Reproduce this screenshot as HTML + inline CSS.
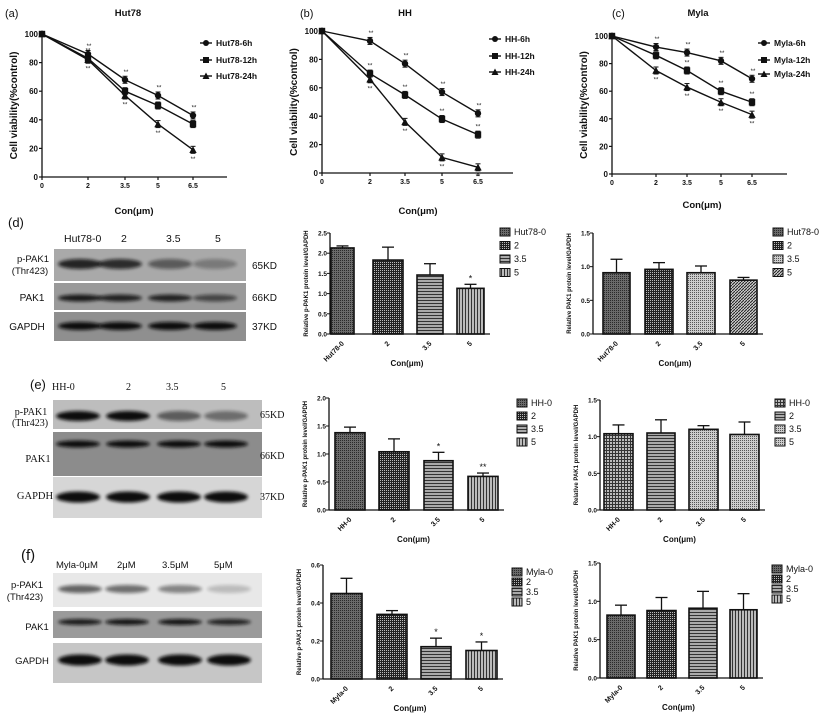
<!DOCTYPE html>
<html><head><meta charset="utf-8"><style>
html,body{margin:0;padding:0;background:#fff;}
svg{display:block;font-family:"Liberation Sans",Arial,sans-serif;}
</style></head><body>
<svg id="s" width="829" height="722" viewBox="0 0 829 722" xmlns="http://www.w3.org/2000/svg">
<defs>
<pattern id="p0" width="2" height="2" patternUnits="userSpaceOnUse"><rect width="2" height="2" fill="#6a6a6a"/><rect width="1" height="1" fill="#2a2a2a"/></pattern>
<pattern id="p1" width="2" height="2" patternUnits="userSpaceOnUse"><rect width="2" height="2" fill="#222"/><rect width="1" height="1" fill="#bbb"/></pattern>
<pattern id="p2" width="3" height="3" patternUnits="userSpaceOnUse"><rect width="3" height="3" fill="#aaa"/><rect width="3" height="1" fill="#333"/></pattern>
<pattern id="p3" width="3" height="3" patternUnits="userSpaceOnUse"><rect width="3" height="3" fill="#bbb"/><rect width="1" height="3" fill="#333"/></pattern>
<pattern id="p4" width="2" height="2" patternUnits="userSpaceOnUse"><rect width="2" height="2" fill="#ccc"/><rect width="1" height="1" fill="#555"/></pattern>
<pattern id="p5" width="3" height="3" patternUnits="userSpaceOnUse"><rect width="3" height="3" fill="#ccc"/><path d="M0,3L3,0" stroke="#222" stroke-width="1"/></pattern>
<pattern id="p6" width="3" height="3" patternUnits="userSpaceOnUse"><rect width="3" height="3" fill="#bbb"/><rect width="3" height="1" fill="#333"/><rect width="1" height="3" fill="#333"/></pattern>
<filter id="bl" x="-20%" y="-50%" width="140%" height="200%"><feGaussianBlur stdDeviation="1.6"/></filter>
</defs>
<g id="g"></g>
</svg>
<script>
var g=document.getElementById('g'),out='';
function T(x,y,t,o){o=o||{};out+='<text x="'+x+'" y="'+y+'" font-size="'+(o.fs||8)+'" font-weight="'+(o.fw||'normal')+'" text-anchor="'+(o.a||'start')+'"'+(o.tr?' transform="'+o.tr+'"':'')+(o.ff?' font-family="'+o.ff+'"':'')+' fill="#111">'+t+'</text>';}
function L(x1,y1,x2,y2,w){out+='<line x1="'+x1+'" y1="'+y1+'" x2="'+x2+'" y2="'+y2+'" stroke="#111" stroke-width="'+(w||1)+'"/>';}
function mk(t,x,y,s){s=s||3.2;if(t==0)out+='<circle cx="'+x+'" cy="'+y+'" r="'+s+'" fill="#111"/>';else if(t==1)out+='<rect x="'+(x-s)+'" y="'+(y-s)+'" width="'+2*s+'" height="'+2*s+'" fill="#111"/>';else out+='<polygon points="'+x+','+(y-s-0.5)+' '+(x-s-0.5)+','+(y+s)+' '+(x+s+0.5)+','+(y+s)+'" fill="#111"/>';}
function line(c){
 var X=c.xs,ys=function(v){return c.y0+(c.yt-c.y0)*v/100;};
 L(c.ax,c.yt-1,c.ax,c.y0,1.3);L(c.ax,c.y0,c.xe,c.y0,1.3);
 [0,20,40,60,80,100].forEach(function(v){L(c.ax-3,ys(v),c.ax,ys(v),1.2);T(c.ax-4,ys(v)+3,v,{fs:8,fw:'bold',a:'end'});});
 var lb=['0','2','3.5','5','6.5'];
 X.forEach(function(x,i){L(x,c.y0,x,c.y0+3,1.2);T(x,c.y0+11,lb[i],{fs:7,fw:'bold',a:'middle'});});
 c.d.forEach(function(s,k){var p=s.map(function(v,i){return X[i]+','+ys(v);}).join(' ');
  out+='<polyline points="'+p+'" fill="none" stroke="#111" stroke-width="1.4"/>';
  s.forEach(function(v,i){var y=ys(v),e=i?3.5:0;if(e){L(X[i],y-e,X[i],y+e,1);L(X[i]-2.5,y-e,X[i]+2.5,y-e,1);L(X[i]-2.5,y+e,X[i]+2.5,y+e,1);}mk(k,X[i],y);
   if(i)T(X[i]+(k==0?1:0),k==2?y+11:y-6,'**',{fs:6,a:'middle'});});});
 c.leg.forEach(function(n,k){var y=c.ly[k];L(c.lx-6,y,c.lx+6,y,1.4);mk(k,c.lx,y,3);T(c.lx+10,y+3,n,{fs:8.5,fw:'bold'});});
 T(c.tx,16,c.title,{fs:9.5,fw:'bold',a:'middle'});T(c.px,17,c.pl,{fs:11});
 T(c.ax-25,(c.y0+c.yt)/2,'Cell viability(%control)',{fs:10,fw:'bold',a:'middle',tr:'rotate(-90 '+(c.ax-25)+' '+((c.y0+c.yt)/2)+')'});
 T(c.cx,c.cy,'Con(μm)',{fs:9.5,fw:'bold',a:'middle'});
}
line({ax:42,y0:177,yt:34,xe:227,xs:[42,88,125,158,193],d:[[100,86,68,57,43],[100,83,60,50,37],[100,82,57,37,19]],leg:['Hut78-6h','Hut78-12h','Hut78-24h'],lx:206,ly:[43,60,76],title:'Hut78',tx:128,pl:'(a)',px:5,cx:134,cy:214});
line({ax:322,y0:173,yt:31,xe:513,xs:[322,370,405,442,478],d:[[100,93,77,57,42],[100,70,55,38,27],[100,66,36,11,4]],leg:['HH-6h','HH-12h','HH-24h'],lx:495,ly:[39,56,72],title:'HH',tx:405,pl:'(b)',px:300,cx:418,cy:214});
line({ax:612,y0:174,yt:36,xe:787,xs:[612,656,687,721,752],d:[[100,92,88,82,69],[100,86,75,60,52],[100,75,63,52,43]],leg:['Myla-6h','Myla-12h','Myla-24h'],lx:764,ly:[43,60,74],title:'Myla',tx:698,pl:'(c)',px:612,cx:702,cy:208});

function bar(c){
 var ys=function(v){return c.y0+(c.yt-c.y0)*v/c.max;};
 c.b.forEach(function(b,i){var y=ys(b[2]),m=(b[0]+b[1])/2,e=ys(b[2]+b[3]);
  L(m,y,m,e,1.3);L(m-6,e,m+6,e,1.3);
  out+='<rect x="'+b[0]+'" y="'+y+'" width="'+(b[1]-b[0])+'" height="'+(c.y0-y)+'" fill="url(#'+b[4]+')" stroke="#111" stroke-width="1.6"/>';
  if(b[5])T(m,e-3,b[5],{fs:9,a:'middle'});
  var tx=m+2,ty=c.y0+10;T(tx,ty,c.lb[i],{fs:7,fw:'bold',a:'end',tr:'rotate(-45 '+tx+' '+ty+')'});});
 L(c.ax,c.yt,c.ax,c.y0,1.3);L(c.ax,c.y0,c.b[3][1]+6,c.y0,1.3);
 c.ticks.forEach(function(t){var y=ys(+t);L(c.ax-3,y,c.ax,y,1);T(c.ax-3,y+2.5,t,{fs:6.5,fw:'bold',a:'end'});});
 var my=(c.y0+c.yt)/2;T(c.ax-22,my,c.yl,{fs:6,fw:'bold',a:'middle',tr:'rotate(-90 '+(c.ax-22)+' '+my+')'});
 T((c.ax+c.b[3][1])/2,c.y0+32,'Con(μm)',{fs:8,fw:'bold',a:'middle'});
 c.ln.forEach(function(n,k){var y=c.ly+k*c.ls;out+='<rect x="'+c.lx+'" y="'+(y-4)+'" width="10" height="8" fill="url(#'+c.b[k][4]+')" stroke="#111" stroke-width="1"/>';T(c.lx+14,y+3,n,{fs:9});});
}
var P='Relative p-PAK1 protein level/GAPDH',Q='Relative PAK1 protein level/GAPDH';
bar({ax:330,y0:334,yt:233,max:2.5,ticks:['0.0','0.5','1.0','1.5','2.0','2.5'],yl:P,lb:['Hut78-0','2','3.5','5'],b:[[331,354,2.13,.05,'p0'],[373,403,1.83,.32,'p1'],[417,443,1.46,.28,'p2'],[457,484,1.13,.1,'p3','*']],ln:['Hut78-0','2','3.5','5'],lx:500,ly:232,ls:13.5});
bar({ax:593,y0:334,yt:233,max:1.5,ticks:['0.0','0.5','1.0','1.5'],yl:Q,lb:['Hut78-0','2','3.5','5'],b:[[603,630,.91,.2,'p0'],[645,673,.96,.1,'p1'],[687,715,.91,.1,'p4'],[730,757,.8,.04,'p5']],ln:['Hut78-0','2','3.5','5'],lx:773,ly:232,ls:13.5});
bar({ax:329,y0:510,yt:398,max:2,ticks:['0.0','0.5','1.0','1.5','2.0'],yl:P,lb:['HH-0','2','3.5','5'],b:[[335,365,1.38,.1,'p0'],[379,409,1.04,.23,'p1'],[424,453,.88,.15,'p2','*'],[468,498,.6,.06,'p3','**']],ln:['HH-0','2','3.5','5'],lx:517,ly:403,ls:13});
bar({ax:600,y0:510,yt:400,max:1.5,ticks:['0.0','0.5','1.0','1.5'],yl:Q,lb:['HH-0','2','3.5','5'],b:[[604,633,1.04,.12,'p6'],[647,675,1.05,.18,'p2'],[689,718,1.1,.05,'p4'],[730,759,1.03,.17,'p4']],ln:['HH-0','2','3.5','5'],lx:775,ly:403,ls:13});
bar({ax:323,y0:679,yt:565,max:.6,ticks:['0.0','0.2','0.4','0.6'],yl:P,lb:['Myla-0','2','3.5','5'],b:[[331,362,.45,.08,'p0'],[377,407,.34,.02,'p1'],[421,451,.17,.045,'p2','*'],[466,497,.15,.045,'p3','*']],ln:['Myla-0','2','3.5','5'],lx:512,ly:572,ls:10});
bar({ax:600,y0:678,yt:563,max:1.5,ticks:['0.0','0.5','1.0','1.5'],yl:Q,lb:['Myla-0','2','3.5','5'],b:[[607,635,.82,.13,'p0'],[647,676,.88,.17,'p1'],[689,717,.91,.22,'p2'],[730,757,.89,.21,'p3']],ln:['Myla-0','2','3.5','5'],lx:772,ly:569,ls:10});

function blot(x,w,rows,lanes){rows.forEach(function(r){out+='<rect x="'+x+'" y="'+r[0]+'" width="'+w+'" height="'+(r[1]-r[0])+'" fill="'+r[2]+'"/>';
 lanes.forEach(function(lx,i){var a=r[4]?r[4][i]:1;out+='<ellipse cx="'+lx+'" cy="'+r[3]+'" rx="22" ry="'+(r[5]||4)+'" fill="#111" opacity="'+a+'" filter="url(#bl)"/>';});});}
blot(54,192,[[249,281,'#a9a9a9',264,[.85,.8,.5,.3],5],[283,310,'#9a9a9a',298,[.9,.85,.85,.6],3.5],[312,341,'#8f8f8f',326,[1,1,1,1],4]],[80,120,170,215]);
T(8,227,'(d)',{fs:13});T(64,242,'Hut78-0',{fs:10.5});T(121,242,'2',{fs:10.5});T(166,242,'3.5',{fs:10.5});T(215,242,'5',{fs:10.5});
T(33,262,'p-PAK1',{fs:9.5,a:'middle'});T(30,274,'(Thr423)',{fs:9.5,a:'middle'});T(32,301,'PAK1',{fs:10,a:'middle'});T(27,330,'GAPDH',{fs:10,a:'middle'});
T(252,269,'65KD',{fs:10});T(252,301,'66KD',{fs:10});T(252,330,'37KD',{fs:10});
blot(53,209,[[400,429,'#bdbdbd',416,[1,1,.55,.45],5],[432,476,'#8c8c8c',444,[1,1,1,1],3.5],[477,518,'#d6d6d6',497,[1,1,1,1],5.5]],[78,128,179,226]);
var TN='Liberation Serif';
T(30,389,'(e)',{fs:13});T(52,390,'HH-0',{fs:10,ff:TN});T(126,390,'2',{fs:10,ff:TN});T(166,390,'3.5',{fs:10,ff:TN});T(221,390,'5',{fs:10,ff:TN});
T(31,415,'p-PAK1',{fs:10,a:'middle',ff:TN});T(30,426,'(Thr423)',{fs:10,a:'middle',ff:TN});T(38,462,'PAK1',{fs:10.5,a:'middle',ff:TN});T(35,499,'GAPDH',{fs:10.5,a:'middle',ff:TN});
T(260,418,'65KD',{fs:10,ff:TN});T(260,459,'66KD',{fs:10,ff:TN});T(260,500,'37KD',{fs:10,ff:TN});
blot(53,209,[[573,607,'#e8e8e8',589,[.6,.55,.45,.2],4],[611,638,'#9a9a9a',622,[.9,.95,.95,.85],3],[643,683,'#c6c6c6',660,[1,1,1,1],5.5]],[80,127,180,229]);
T(21,560,'(f)',{fs:15});T(56,568,'Myla-0μM',{fs:9.5});T(117,568,'2μM',{fs:9.5});T(162,568,'3.5μM',{fs:9.5});T(214,568,'5μM',{fs:9.5});
T(27,588,'p-PAK1',{fs:9.5,a:'middle'});T(25,600,'(Thr423)',{fs:9.5,a:'middle'});T(37,630,'PAK1',{fs:9.5,a:'middle'});T(32,664,'GAPDH',{fs:9.5,a:'middle'});
g.innerHTML=out;
</script>
</body></html>
